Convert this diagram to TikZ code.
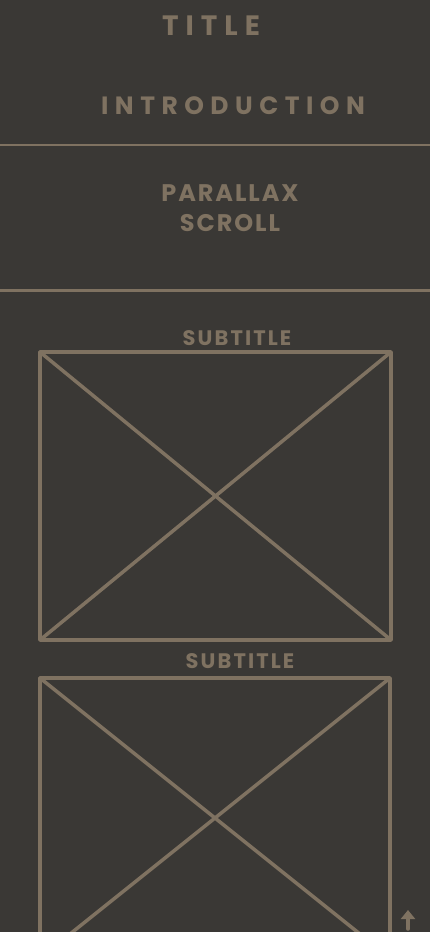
\documentclass[tikz,border=0pt]{standalone}
\usepackage{fontspec}
\usetikzlibrary{arrows.meta}
\newfontfamily\sketchfont{Poppins}
\definecolor{bg}{HTML}{3A3835}
\definecolor{ink}{HTML}{7F7261}
\begin{document}
\begin{tikzpicture}[x=1pt,y=-1pt,line join=round,line cap=round,
  caption/.style={text=ink,inner sep=0pt,align=center},
  frame/.style={draw=ink,line width=3.5pt,outer sep=0pt,inner sep=0pt}]
            \fill[bg] (0,0) rectangle (430,932);
            \clip (0,0) rectangle (430,932);
            \path 
            (0,145) coordinate (A1)
            (430,145) coordinate (A2)
            (0,290) coordinate (B1)
            (430,290) coordinate (B2)
            (408,929) coordinate (U0)
            (408,910) coordinate (U1)
            ;
            \draw[ink,line width=2pt] (A1)--(A2);
            \draw[ink,line width=3pt] (B1)--(B2);
            \node[caption,font={\sketchfont\bfseries\addfontfeature{LetterSpace=25}\fontsize{28}{28}\selectfont}] (title) at (211,26) {TITLE};
            \node[caption,font={\sketchfont\bfseries\addfontfeature{LetterSpace=26}\fontsize{25}{25}\selectfont}] (intro) at (233,106) {INTRODUCTION};
            \node[caption,font={\sketchfont\bfseries\addfontfeature{LetterSpace=8}\fontsize{24}{30}\selectfont}] (parallax) at (230,208) {PARALLAX\\SCROLL};
            \node[caption,font={\sketchfont\bfseries\addfontfeature{LetterSpace=10}\fontsize{21}{21}\selectfont}] (sub1) at (237,338) {SUBTITLE};
            \node[caption,font={\sketchfont\bfseries\addfontfeature{LetterSpace=10}\fontsize{21}{21}\selectfont}] (sub2) at (240,661) {SUBTITLE};
            \node[frame,minimum width=351pt,minimum height=288pt] (img1) at (215.5,496) {};
            \node[frame,minimum width=350pt,minimum height=280pt] (img2) at (215,818) {};
            \foreach \b in {img1,img2}
            \draw[ink,line width=3.5pt] (\b.north west)--(\b.south east) (\b.north east)--(\b.south west);
            \draw[ink,line width=3.5pt,-{Triangle[width=14pt,length=9pt]}] (U0)--(U1);
        \end{tikzpicture}
\end{document}
